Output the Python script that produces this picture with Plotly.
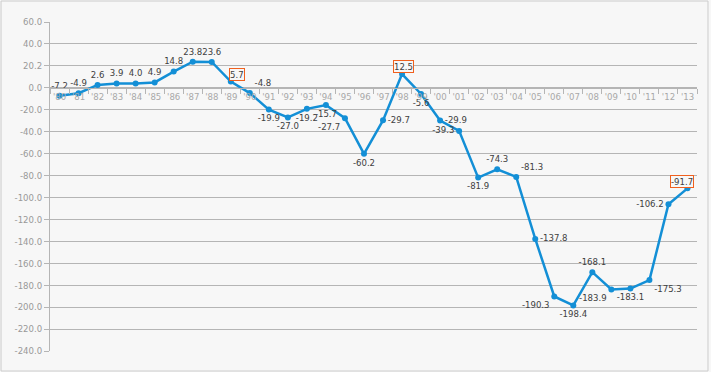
import plotly.graph_objects as go

years = ["'80","'81","'82","'83","'84","'85","'86","'87","'88","'89",
         "'90","'91","'92","'93","'94","'95","'96","'97","'98","'99",
         "'00","'01","'02","'03","'04","'05","'06","'07","'08","'09",
         "'10","'11","'12","'13"]
values = [-7.2, -4.9, 2.6, 3.9, 4.0, 4.9, 14.8, 23.8, 23.6, 5.7,
          -4.8, -19.9, -27.0, -19.2, -15.7, -27.7, -60.2, -29.7, 12.5, -5.6,
          -29.9, -39.3, -81.9, -74.3, -81.3, -137.8, -190.3, -198.4, -168.1, -183.9,
          -183.1, -175.3, -106.2, -91.7]
highlight = ["'89", "'98", "'13"]

y_tickvals = [60, 40, 20, 0, -20, -40, -60, -80, -100, -120, -140, -160, -180, -200, -220, -240]
y_ticktext = ["60.0", "40.0", "20.2", "0.0", "-20.0", "-40.0", "-60.0", "-80.0", "-100.0",
              "-120.0", "-140.0", "-160.0", "-180.0", "-200.0", "-220.0", "-240.0"]

label_pos = ["top center"] * 9 + ["top center",
             "top right", "bottom center", "bottom center", "bottom center", "bottom center",
             "bottom left", "bottom center", "middle right", "top center", "bottom center",
             "middle right", "middle left", "bottom center", "top center", "top right",
             "middle right", "bottom left", "bottom center", "top center", "bottom left",
             "bottom center", "bottom right", "middle left", "top center"]

BLUE = "#138fd6"
GRID = "#b5b5b5"
BG = "#f7f7f7"
FONT = "Liberation Sans Narrow, DejaVu Sans Condensed, Liberation Sans, sans-serif"

texts = ["" if y in highlight else f"{v:.1f}" for y, v in zip(years, values)]

fig = go.Figure()
fig.add_trace(go.Scatter(
    x=years, y=values, mode="lines+markers+text",
    line=dict(color=BLUE, width=2.5),
    marker=dict(color=BLUE, size=6),
    text=texts, textposition=label_pos,
    textfont=dict(family=FONT, size=9.5, color="#404040"),
    cliponaxis=False, showlegend=False, hoverinfo="skip",
))

box_shift = {"'89": (6, 7), "'98": (1, 8), "'13": (-5, 7)}
for y, v in zip(years, values):
    if y in highlight:
        dx, dy = box_shift[y]
        fig.add_annotation(
            x=y, y=v, text=f"{v:.1f}", showarrow=False,
            xshift=dx, yshift=dy, font=dict(family=FONT, size=9.5, color="#404040"),
            bordercolor="#f0601e", borderwidth=1, borderpad=0, bgcolor=BG,
        )

fig.update_layout(
    width=711, height=372,
    margin=dict(l=50, r=14, t=22, b=21),
    paper_bgcolor=BG, plot_bgcolor=BG,
    xaxis=dict(
        type="category", categoryorder="array", categoryarray=years,
        range=[-0.5, len(years) - 0.5],
        anchor="free", position=0.8, automargin=False,
        showline=True, linecolor=GRID, linewidth=1,
        ticks="outside", ticklen=5, tickcolor=GRID, tickson="boundaries",
        tickangle=0,
        showgrid=False, zeroline=False,
        tickfont=dict(family=FONT, size=9.5, color="#a8a8a8"),
    ),
    yaxis=dict(
        range=[-240, 60], tickvals=y_tickvals, ticktext=y_ticktext,
        automargin=False,
        showgrid=True, gridcolor=GRID, gridwidth=1,
        zeroline=False,
        showline=True, linecolor=GRID, linewidth=1,
        ticks="outside", ticklen=5, tickcolor=GRID,
        tickfont=dict(family=FONT, size=9.5, color="#999999"),
    ),
    shapes=[dict(type="rect", xref="paper", yref="paper",
                 x0=-0.0757, x1=1.017, y0=-0.0608, y1=1.0638,
                 line=dict(color="#cccccc", width=1), layer="below")],
)

fig.write_html("out.html", config={"displayModeBar": False},
               post_script="document.body.style.margin='0';document.body.style.background='#ffffff';")
